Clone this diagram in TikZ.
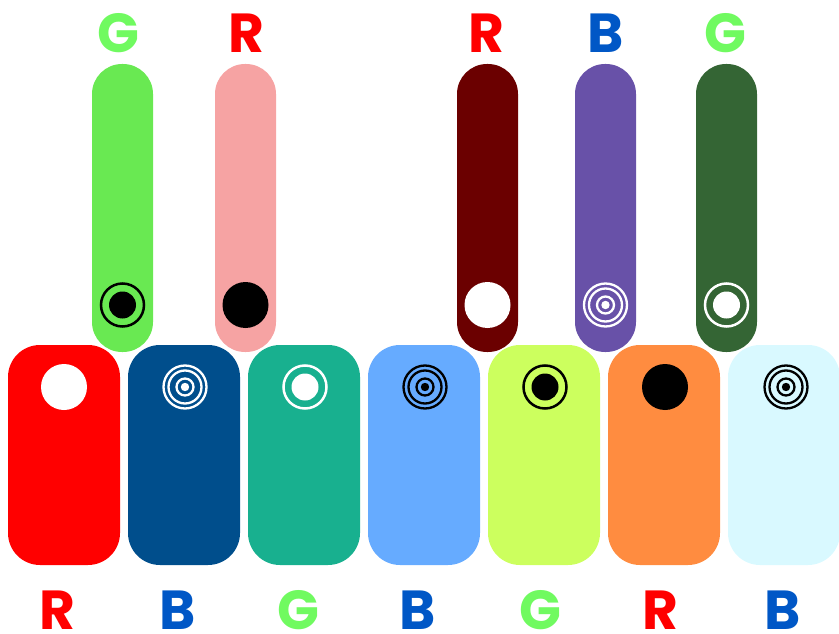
\documentclass[tikz,border=0pt]{standalone}
\usepackage{fontspec}
\newfontfamily\pop{Poppins}
\definecolor{cG}{HTML}{70FA60}
\definecolor{cR}{HTML}{FF0000}
\definecolor{cB}{HTML}{0057C6}
\definecolor{p1}{HTML}{69E952}
\definecolor{p2}{HTML}{F6A3A3}
\definecolor{p3}{HTML}{6B0000}
\definecolor{p4}{HTML}{6851A8}
\definecolor{p5}{HTML}{346534}
\definecolor{b1}{HTML}{FF0000}
\definecolor{b2}{HTML}{004E8C}
\definecolor{b3}{HTML}{18B08F}
\definecolor{b4}{HTML}{66ABFF}
\definecolor{b5}{HTML}{CCFF5E}
\definecolor{b6}{HTML}{FF8C40}
\definecolor{b7}{HTML}{D9F9FF}
\tikzset{
  lett/.style={font=\pop\bfseries\fontsize{55}{55}\selectfont, inner sep=0pt, anchor=base},
  boxsh/.style={rounded corners=32pt},
  pillsh/.style={rounded corners=30pt},
}
\newcommand{\symDisk}[3]{\fill[#3] (#1,#2) circle (23);}
\newcommand{\symRing}[3]{\draw[#3,line width=2.5pt] (#1,#2) circle (21.5); \fill[#3] (#1,#2) circle (13.5);}
\newcommand{\symTarget}[3]{\draw[#3,line width=2.3pt] (#1,#2) circle (21.5); \draw[#3,line width=2.3pt] (#1,#2) circle (16.5); \draw[#3,line width=2.3pt] (#1,#2) circle (8.5); \fill[#3] (#1,#2) circle (4.2);}
\begin{document}
\begin{tikzpicture}[x=1pt,y=-1pt]
\useasboundingbox (0,0) rectangle (839,634);
\clip (0,0) rectangle (839,634);
% bottom boxes
\foreach \i/\c in {0/b1,1/b2,2/b3,3/b4,4/b5,5/b6,6/b7}{
  \fill[\c,boxsh] ({8+120*\i},345) rectangle ({120+120*\i},565);
}
% tall pills
\foreach \x/\c in {122.5/p1,245.5/p2,487.5/p3,605.5/p4,726.5/p5}{
  \fill[\c,pillsh] ({\x-30.5},64) rectangle ({\x+30.5},352);
}
% symbols on pills
\symRing{122.5}{305}{black}
\symDisk{245.5}{305}{black}
\symDisk{487.5}{305}{white}
\symTarget{605.5}{305}{white}
\symRing{726.5}{305}{white}
% symbols on boxes
\symDisk{64}{387}{white}
\symTarget{185}{387}{white}
\symRing{305}{387}{white}
\symTarget{425}{387}{black}
\symRing{545}{387}{black}
\symDisk{665}{387}{black}
\symTarget{786}{387}{black}
% top letters
\node[lett,text=cG] (t1) at (118,53) {G};
\node[lett,text=cR] (t2) at (246,53) {R};
\node[lett,text=cR] (t3) at (486,53) {R};
\node[lett,text=cB] (t4) at (606,53) {B};
\node[lett,text=cG] (t5) at (725,53) {G};
% bottom letters
\node[lett,text=cR] (u1) at (57,629) {R};
\node[lett,text=cB] (u2) at (178,629) {B};
\node[lett,text=cG] (u3) at (298,629) {G};
\node[lett,text=cB] (u4) at (418,629) {B};
\node[lett,text=cG] (u5) at (540,629) {G};
\node[lett,text=cR] (u6) at (660,629) {R};
\node[lett,text=cB] (u7) at (783,629) {B};
\end{tikzpicture}
\end{document}
